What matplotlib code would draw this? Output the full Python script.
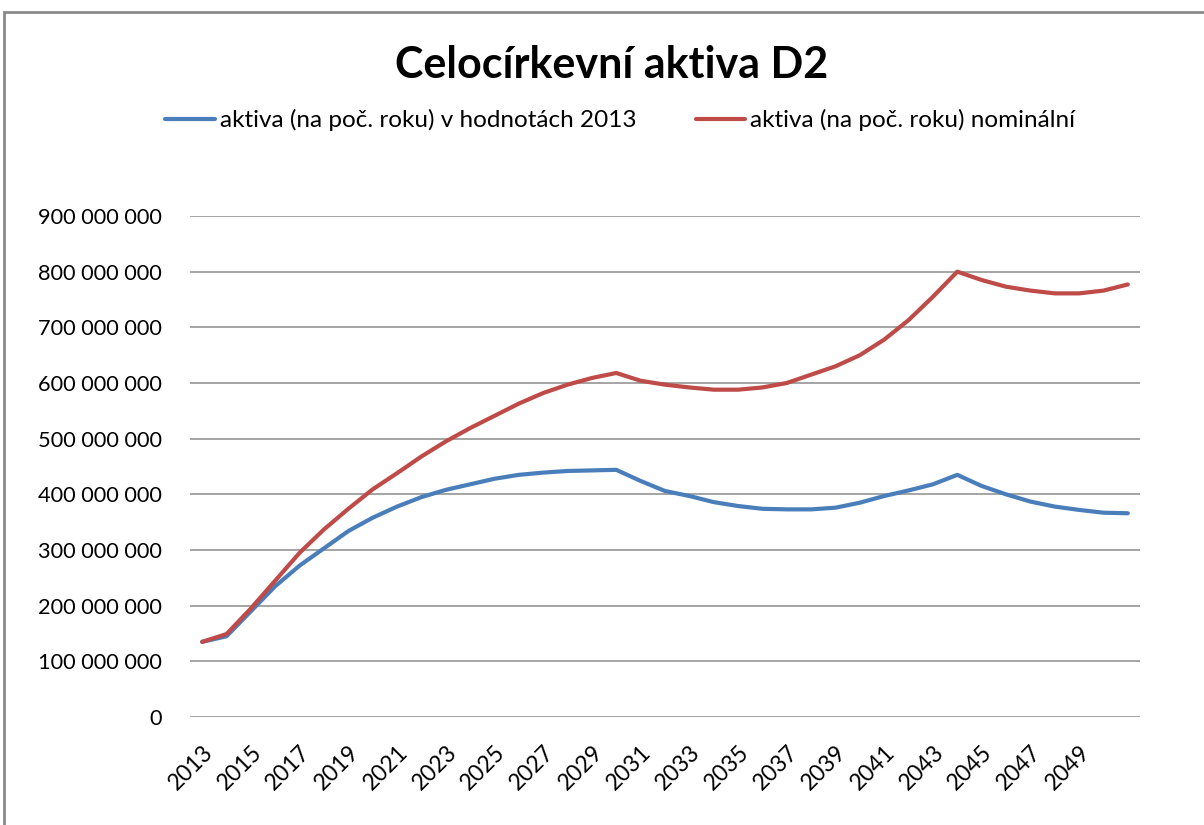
import numpy as np
import matplotlib.pyplot as plt
from matplotlib.patches import Rectangle
from matplotlib.ticker import FuncFormatter

plt.rcParams['font.family'] = ['Lato', 'DejaVu Sans']

# roky a hodnoty (v milionech Kč)
roky = list(range(2013, 2052))
aktiva_2013 = [135, 145, 190, 235, 272, 303, 334, 358, 378, 395,
               408, 418, 428, 435, 439, 442, 443, 444, 424, 406,
               397, 386, 379, 374, 373, 373, 376, 385, 397, 407,
               418, 435, 415, 400, 387, 378, 372, 367, 366]
aktiva_nom = [135, 149, 195, 245, 295, 337, 374, 409, 438, 468,
              495, 519, 541, 563, 582, 597, 609, 618, 604, 597,
              592, 588, 588, 592, 600, 615, 630, 650, 678, 713,
              755, 800, 785, 773, 766, 761, 761, 766, 777]
popisky_x = [str(r) for r in roky[:-1:2]]

titulek = "Celocírkevní aktiva D2"
nazvy = ["aktiva (na poč. roku) v hodnotách 2013", "aktiva (na poč. roku) nominální"]

fig = plt.figure(figsize=(12.04, 8.25), dpi=100)
ax = fig.add_axes([190/1204, 1 - 717/825, 950/1204, 501/825])

x = np.arange(len(roky))
ax.plot(x, np.array(aktiva_2013)*1e6, color='#4A7EBB', lw=3, label=nazvy[0], solid_capstyle='round')
ax.plot(x, np.array(aktiva_nom)*1e6, color='#BE4B48', lw=3, label=nazvy[1], solid_capstyle='round')

ax.set_xlim(-0.5, len(roky) - 0.5)
ax.set_ylim(0, 900e6)
ax.set_yticks(np.arange(0, 901e6, 100e6))
ax.yaxis.set_major_formatter(FuncFormatter(lambda v, p: f"{int(v):,}".replace(",", " ")))
ax.grid(axis='y', color='#8c8c8c', lw=1.1)
ax.set_axisbelow(True)
for s in ax.spines.values():
    s.set_visible(False)

ax.set_xticks(x[:-1:2])
ax.set_xticklabels(popisky_x, rotation=45, ha='right', va='top', rotation_mode='anchor')
ax.tick_params(axis='both', length=0, colors='black')
ax.tick_params(axis='y', pad=20, labelsize=15.7)
ax.tick_params(axis='x', pad=18, labelsize=16.5)

fig.text(0.508, 1 - 65/825, titulek, ha='center', va='center', fontsize=31, fontweight='bold')
fig.legend(loc='center', bbox_to_anchor=(0.515, 1 - 120/825), ncol=2, frameon=False,
           fontsize=17.5, handlelength=2.05, handletextpad=0.2, columnspacing=2.45)

# rámeček grafu
fig.patches.append(Rectangle((4/1204, -0.1), 1.2, 1 - 12/825 + 0.1, transform=fig.transFigure,
                             fill=False, edgecolor='#8a8a8a', lw=2))

fig.savefig('out.png', dpi=100)
